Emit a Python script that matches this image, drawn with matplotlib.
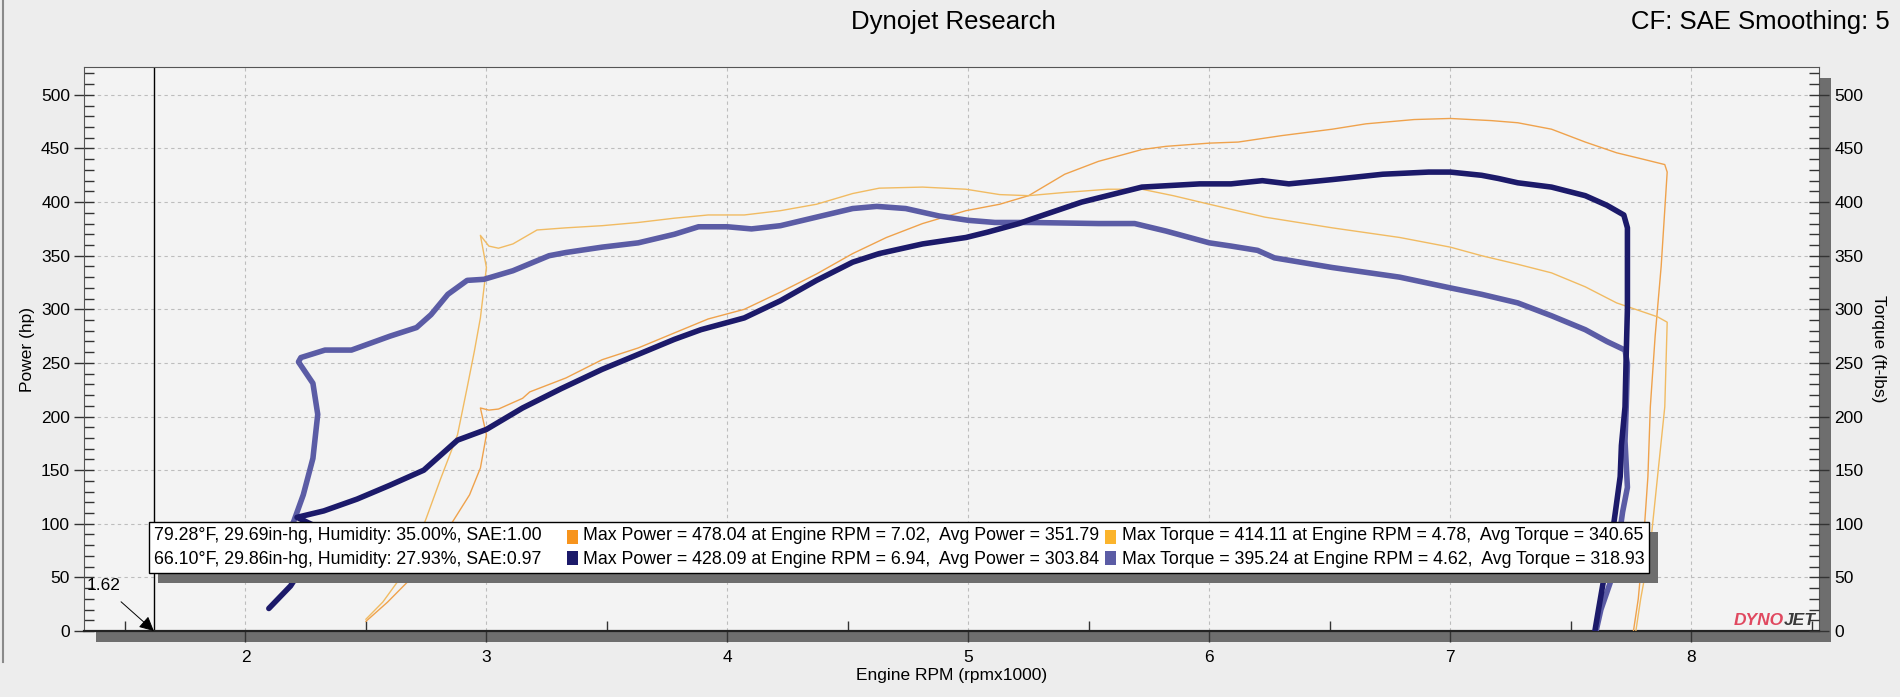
import matplotlib
matplotlib.use("Agg")
import matplotlib.pyplot as plt
from matplotlib.patches import Rectangle
from matplotlib.lines import Line2D
from matplotlib.ticker import MultipleLocator
from matplotlib.offsetbox import TextArea, DrawingArea, HPacker, VPacker, AnchoredOffsetbox

plt.rcParams['font.family'] = ['Liberation Sans', 'DejaVu Sans']

# ---- data (rpm x1000, hp / ft-lbs) ----
run1_power_rpm = [2.50, 2.59, 2.70, 2.80, 2.86, 2.93, 2.975, 3.00, 2.975, 3.01, 3.05, 3.15, 3.18,
                  3.33, 3.48, 3.63, 3.78, 3.92, 4.07, 4.22, 4.37, 4.52, 4.66, 4.81, 4.99, 5.13,
                  5.25, 5.40, 5.54, 5.72, 5.82, 6.00, 6.12, 6.30, 6.51, 6.65, 6.85, 7.00, 7.17,
                  7.28, 7.42, 7.56, 7.69, 7.80, 7.89, 7.90, 7.875, 7.85, 7.83, 7.82, 7.80, 7.78, 7.76]
run1_power_hp = [9, 27, 52, 83, 102, 127, 152, 183, 208, 206, 207, 217, 223,
                 236, 253, 264, 278, 291, 300, 316, 333, 352, 367, 380, 392, 398,
                 406, 426, 438, 449, 452, 455, 456, 462, 468, 473, 477, 478, 476,
                 474, 468, 456, 446, 440, 435, 428, 340, 275, 209, 144, 79, 30, 0]

run1_torque_rpm = [2.50, 2.57, 2.67, 2.75, 2.81, 2.88, 2.92, 2.95, 2.975, 3.00, 2.975, 3.01, 3.05,
                   3.11, 3.21, 3.33, 3.48, 3.63, 3.78, 3.92, 4.07, 4.22, 4.37, 4.52, 4.63, 4.81,
                   4.99, 5.13, 5.25, 5.40, 5.58, 5.72, 5.85, 6.00, 6.23, 6.51, 6.79, 7.00, 7.13,
                   7.28, 7.42, 7.56, 7.69, 7.86, 7.90, 7.89, 7.86, 7.83, 7.79, 7.77]
run1_torque_ftlb = [11, 27, 58, 105, 142, 183, 227, 261, 292, 339, 369, 359, 357,
                    361, 374, 376, 378, 381, 385, 388, 388, 392, 398, 408, 413, 414,
                    412, 407, 406, 409, 412, 412, 406, 398, 386, 376, 367, 358, 350,
                    342, 334, 321, 306, 293, 288, 209, 144, 79, 30, 0]

run2_power_rpm = [2.097, 2.187, 2.242, 2.28, 2.297, 2.214, 2.325, 2.463, 2.60, 2.74, 2.81, 2.88,
                  3.00, 3.15, 3.31, 3.48, 3.63, 3.78, 3.89, 4.07, 4.22, 4.37, 4.52, 4.63, 4.81,
                  4.99, 5.08, 5.21, 5.26, 5.47, 5.72, 5.96, 6.09, 6.22, 6.33, 6.51, 6.72, 6.91,
                  7.00, 7.13, 7.20, 7.28, 7.42, 7.56, 7.65, 7.72, 7.735, 7.735, 7.735, 7.73, 7.725,
                  7.71, 7.705, 7.685, 7.665, 7.635, 7.615, 7.60]
run2_power_hp = [21, 42, 61, 82, 97, 106, 112, 123, 136, 150, 164, 178,
                 188, 208, 226, 244, 258, 272, 281, 292, 308, 327, 344, 352, 361,
                 367, 372, 380, 384, 400, 414, 417, 417, 420, 417, 421, 426, 428,
                 428, 425, 422, 418, 414, 406, 397, 388, 376, 340, 301, 258, 209,
                 173, 144, 111, 79, 46, 20, 0]

run2_torque_rpm = [2.09, 2.14, 2.20, 2.24, 2.28, 2.30, 2.28, 2.22, 2.23, 2.33, 2.44, 2.60, 2.71,
                   2.77, 2.84, 2.92, 2.99, 3.11, 3.26, 3.33, 3.48, 3.63, 3.78, 3.88, 4.00, 4.10,
                   4.22, 4.37, 4.52, 4.62, 4.74, 4.88, 5.00, 5.11, 5.26, 5.54, 5.69, 5.82, 6.00,
                   6.09, 6.20, 6.27, 6.51, 6.79, 7.00, 7.13, 7.28, 7.42, 7.56, 7.65, 7.725, 7.735,
                   7.73, 7.725, 7.735, 7.715, 7.695, 7.665, 7.625, 7.605]
run2_torque_ftlb = [53, 75, 102, 127, 161, 202, 231, 251, 255, 262, 262, 275, 283,
                    295, 314, 327, 328, 336, 350, 353, 358, 362, 370, 377, 377, 375,
                    378, 386, 394, 396, 394, 387, 383, 381, 381, 380, 380, 373, 362,
                    359, 355, 348, 339, 330, 320, 314, 306, 294, 281, 270, 262, 249,
                    209, 177, 134, 111, 79, 46, 20, 0]

env_lines = ["79.28°F, 29.69in-hg, Humidity: 35.00%, SAE:1.00",
             "66.10°F, 29.86in-hg, Humidity: 27.93%, SAE:0.97"]
power_lines = ["Max Power = 478.04 at Engine RPM = 7.02,  Avg Power = 351.79",
               "Max Power = 428.09 at Engine RPM = 6.94,  Avg Power = 303.84"]
torque_lines = ["Max Torque = 414.11 at Engine RPM = 4.78,  Avg Torque = 340.65",
                "Max Torque = 395.24 at Engine RPM = 4.62,  Avg Torque = 318.93"]
cursor_rpm = 1.62

# swatch colours and the (thin, paler looking) trace colours
c_p1, c_t1 = "#F7941D", "#FBB42C"
c_p2, c_t2 = "#1C1A6A", "#5B5CA5"
trace_p1, trace_t1 = "#EFA24C", "#F1BB62"

fig = plt.figure(figsize=(19, 6.97), dpi=100, facecolor="#EDEDED")
ax = fig.add_axes([84 / 1900, 66 / 697, 1735 / 1900, 564 / 697])
ax.set_facecolor("#F3F3F3")

# drop shadow behind the plot area
fig.patches.append(Rectangle((96 / 1900, 55 / 697), 1735 / 1900, 564 / 697,
                             transform=fig.transFigure, facecolor="#6E6E6E",
                             edgecolor="none", zorder=-5))
fig.add_artist(Line2D([0.0015, 0.0015], [0.05, 1.0], color="#8A8A8A", lw=1.5))

ax.plot(run1_power_rpm, run1_power_hp, color=trace_p1, lw=1.0, zorder=3)
ax.plot(run1_torque_rpm, run1_torque_ftlb, color=trace_t1, lw=1.0, zorder=3)
ax.plot(run2_torque_rpm, run2_torque_ftlb, color=c_t2, lw=4, zorder=3,
        solid_capstyle="round", solid_joinstyle="round")
ax.plot(run2_power_rpm, run2_power_hp, color=c_p2, lw=4, zorder=3,
        solid_capstyle="round", solid_joinstyle="round")

ax.axvline(cursor_rpm, color="black", lw=1, zorder=2)
ax.annotate(f"{cursor_rpm:.2f}", xy=(cursor_rpm, 0), xytext=(1.41, 42),
            ha="center", va="center", fontsize=12.5,
            arrowprops=dict(arrowstyle="-|>", color="black", lw=0.7,
                            mutation_scale=22, shrinkA=6, shrinkB=0))

ax.set_xlim(1.33, 8.53)
ax.set_ylim(0, 526)
ax.xaxis.set_major_locator(MultipleLocator(1))
ax.xaxis.set_minor_locator(MultipleLocator(0.5))
ax.yaxis.set_major_locator(MultipleLocator(50))
ax.yaxis.set_minor_locator(MultipleLocator(10))
ax.grid(True, which="major", color="#BDBDBD", lw=0.8, ls=(0, (3, 3)), zorder=1)
ax.set_axisbelow(True)

ax.tick_params(axis="y", which="major", direction="inout", length=14, width=1,
               color="#333333", labelsize=12.5, pad=3)
ax.tick_params(axis="y", which="minor", direction="in", length=7, width=1, color="#333333")
ax.tick_params(axis="x", which="major", direction="out", length=8, width=1,
               color="#333333", labelsize=12.5, pad=6)
ax.tick_params(axis="x", which="minor", direction="in", length=7, width=1, color="#333333")
for s in ("left", "right", "top"):
    ax.spines[s].set_color("#555555")
ax.spines["bottom"].set_color("#222222")
ax.spines["bottom"].set_linewidth(1.6)

ax2 = ax.twinx()
ax2.set_ylim(ax.get_ylim())
ax2.yaxis.set_major_locator(MultipleLocator(50))
ax2.yaxis.set_minor_locator(MultipleLocator(10))
ax2.tick_params(axis="y", which="major", direction="inout", length=14, width=1,
                color="#333333", labelsize=12.5, pad=4)
ax2.tick_params(axis="y", which="minor", direction="in", length=7, width=1, color="#333333")
for s in ax2.spines.values():
    s.set_visible(False)

ax.set_ylabel("Power (hp)", fontsize=12.5, labelpad=4)
ax2.set_ylabel("Torque (ft-lbs)", fontsize=12.5, rotation=270, labelpad=16)
ax.set_xlabel("Engine RPM (rpmx1000)", fontsize=12.5, labelpad=2)

fig.text(953 / 1900, 1 - 22 / 697, "Dynojet Research", ha="center", va="center", fontsize=18.5)
fig.text(1890 / 1900, 1 - 22 / 697, "CF: SAE Smoothing: 5", ha="right", va="center", fontsize=18.5)

# run summary box
def swatch(color):
    da = DrawingArea(8, 10)
    da.add_artist(Rectangle((0, 0), 8, 10, facecolor=color, edgecolor="none"))
    return da

tp = dict(fontsize=12.8, color="black")
def col(items):
    return VPacker(children=items, sep=5, pad=0, align="left")

row = HPacker(children=[
    col([TextArea(t, textprops=tp) for t in env_lines]),
    DrawingArea(10, 10),
    col([swatch(c_p1), swatch(c_p2)]),
    col([TextArea(t, textprops=tp) for t in power_lines]),
    col([swatch(c_t1), swatch(c_t2)]),
    col([TextArea(t, textprops=tp) for t in torque_lines]),
], sep=4, pad=0, align="center")

box = AnchoredOffsetbox(loc="upper left", child=row, pad=0.35, borderpad=0, frameon=True,
                        bbox_to_anchor=(1.60, 101.6), bbox_transform=ax.transData)
box.patch.set_facecolor("white")
box.patch.set_edgecolor("black")
box.patch.set_linewidth(1)
box.set_zorder(6)
ax.add_artist(box)

fig.canvas.draw()
bb = box.get_window_extent(fig.canvas.get_renderer())
ax.add_patch(Rectangle((bb.x0 + 9, bb.y0 - 10), bb.width, bb.height, transform=None,
                       facecolor="#6E6E6E", edgecolor="none", zorder=5.5))

logo = HPacker(children=[
    TextArea("DYNO", textprops=dict(fontsize=12.5, color="#E0485F", fontweight="heavy", fontstyle="italic")),
    TextArea("JET", textprops=dict(fontsize=12.5, color="#3A3A3A", fontweight="heavy", fontstyle="italic")),
], sep=0, pad=0)
ax.add_artist(AnchoredOffsetbox(loc="lower right", child=logo, pad=0, borderpad=0.25, frameon=False))

fig.savefig("out.png", dpi=100, facecolor=fig.get_facecolor())
